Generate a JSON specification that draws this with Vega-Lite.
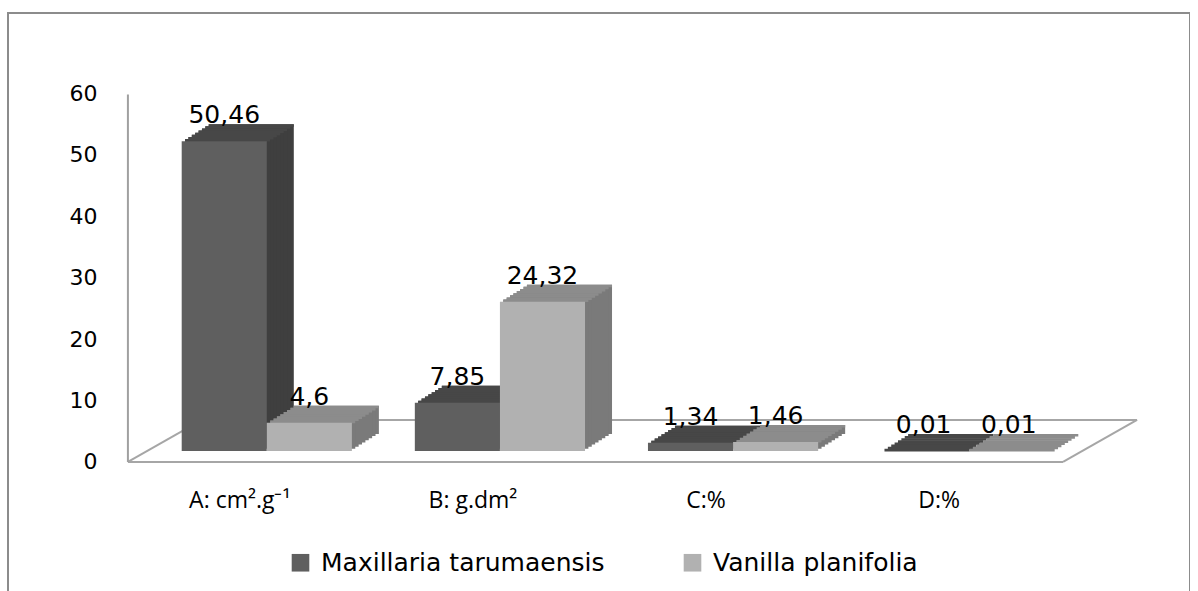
{
  "$schema": "https://vega.github.io/schema/vega-lite/v6.json",
  "width": 1182,
  "height": 580,
  "autosize": {"type": "none"},
  "padding": {"left": 8, "top": 13, "right": 0, "bottom": 0},
  "background": "white",
  "config": {"view": {"stroke": "#8c8c8c", "strokeWidth": 2}, "font": "DejaVu Sans"},
  "resolve": {"scale": {"xOffset": "independent"}},
  "data": {"values": [
    {"cat": "A: cm².g⁻¹", "series": "Maxillaria tarumaensis", "value": 50.46, "label": "50,46"},
    {"cat": "A: cm².g⁻¹", "series": "Vanilla planifolia", "value": 4.6, "label": "4,6"},
    {"cat": "B: g.dm²", "series": "Maxillaria tarumaensis", "value": 7.85, "label": "7,85"},
    {"cat": "B: g.dm²", "series": "Vanilla planifolia", "value": 24.32, "label": "24,32"},
    {"cat": "C:%", "series": "Maxillaria tarumaensis", "value": 1.34, "label": "1,34"},
    {"cat": "C:%", "series": "Vanilla planifolia", "value": 1.46, "label": "1,46"},
    {"cat": "D:%", "series": "Maxillaria tarumaensis", "value": 0.01, "label": "0,01"},
    {"cat": "D:%", "series": "Vanilla planifolia", "value": 0.01, "label": "0,01"}
  ]},
  "layer": [
    {
      "data": {"values": [{}]},
      "mark": {"type": "rule", "color": "#a6a6a6", "strokeWidth": 2, "yOffset": 11, "y2Offset": 11},
      "encoding": {
        "x": {"datum": "A: cm².g⁻¹", "type": "nominal", "bandPosition": -0.316,
              "sort": ["A: cm².g⁻¹", "B: g.dm²", "C:%", "D:%"],
              "scale": {"paddingInner": 0.27, "paddingOuter": 0.67, "align": 0.556},
              "axis": {"orient": "bottom", "offset": -104, "domain": false, "ticks": false, "grid": false,
                       "labelPadding": 0, "labelOffset": -27, "labelFont": "Open Sans", "labelFontSize": 23,
                       "labelColor": "#000000", "labelAngle": 0, "labelBaseline": "top", "title": null}},
        "x2": {"datum": "D:%", "bandPosition": 1.069},
        "y": {"datum": 0, "type": "quantitative",
              "scale": {"domain": [-23.13, 71.33], "nice": false, "zero": false},
              "axis": {"values": [0, 10, 20, 30, 40, 50, 60], "offset": -120, "domain": false, "ticks": false,
                       "grid": false, "labelPadding": 31, "labelOffset": 11, "labelFont": "DejaVu Sans",
                       "labelFontSize": 22, "labelColor": "#000000", "title": null}},
        "y2": {"datum": 0}
      }
    },
    {
      "data": {"values": [{}]},
      "mark": {"type": "rule", "color": "#a6a6a6", "strokeWidth": 2, "yOffset": -31, "y2Offset": -31},
      "encoding": {
        "x": {"datum": "A: cm².g⁻¹", "type": "nominal", "bandPosition": 0.119},
        "x2": {"datum": "D:%", "bandPosition": 1.504},
        "y": {"datum": 0, "type": "quantitative"},
        "y2": {"datum": 0}
      }
    },
    {
      "data": {"values": [{}]},
      "mark": {"type": "rule", "color": "#a6a6a6", "strokeWidth": 2, "yOffset": 11, "y2Offset": -31},
      "encoding": {
        "x": {"datum": "A: cm².g⁻¹", "type": "nominal", "bandPosition": -0.316},
        "x2": {"datum": "A: cm².g⁻¹", "bandPosition": 0.119},
        "y": {"datum": 0, "type": "quantitative"},
        "y2": {"datum": 0}
      }
    },
    {
      "data": {"values": [{}]},
      "mark": {"type": "rule", "color": "#a6a6a6", "strokeWidth": 2, "yOffset": 11, "y2Offset": -31},
      "encoding": {
        "x": {"datum": "D:%", "type": "nominal", "bandPosition": 1.069},
        "x2": {"datum": "D:%", "bandPosition": 1.504},
        "y": {"datum": 0, "type": "quantitative"},
        "y2": {"datum": 0}
      }
    },
    {
      "data": {"values": [{}]},
      "mark": {"type": "rule", "color": "#a0a0a0", "strokeWidth": 2, "yOffset": 11, "y2Offset": 12},
      "encoding": {
        "x": {"datum": "A: cm².g⁻¹", "type": "nominal", "bandPosition": -0.316},
        "y": {"datum": 0, "type": "quantitative"},
        "y2": {"datum": 60}
      }
    },
    {"mark": {"type": "bar", "yOffset": -17, "y2Offset": -17},
     "encoding": {"x": {"field": "cat", "type": "nominal"},
       "xOffset": {"field": "series", "type": "nominal", "scale": {"range": [27, 197.19], "paddingInner": 0, "paddingOuter": 0}},
       "y": {"field": "value", "type": "quantitative"}, "y2": {"datum": 0},
       "color": {"condition": {"test": "datum.series === 'Vanilla planifolia'", "value": "#7a7a7a"}, "value": "#3f3f3f"}}},
    {"mark": {"type": "bar", "yOffset": -14.875, "y2Offset": -14.875},
     "encoding": {"x": {"field": "cat", "type": "nominal"},
       "xOffset": {"field": "series", "type": "nominal", "scale": {"range": [23.625, 193.815], "paddingInner": 0, "paddingOuter": 0}},
       "y": {"field": "value", "type": "quantitative"}, "y2": {"datum": 0},
       "color": {"condition": {"test": "datum.series === 'Vanilla planifolia'", "value": "#7a7a7a"}, "value": "#3f3f3f"}}},
    {"mark": {"type": "bar", "yOffset": -12.75, "y2Offset": -12.75},
     "encoding": {"x": {"field": "cat", "type": "nominal"},
       "xOffset": {"field": "series", "type": "nominal", "scale": {"range": [20.25, 190.44], "paddingInner": 0, "paddingOuter": 0}},
       "y": {"field": "value", "type": "quantitative"}, "y2": {"datum": 0},
       "color": {"condition": {"test": "datum.series === 'Vanilla planifolia'", "value": "#7a7a7a"}, "value": "#3f3f3f"}}},
    {"mark": {"type": "bar", "yOffset": -10.625, "y2Offset": -10.625},
     "encoding": {"x": {"field": "cat", "type": "nominal"},
       "xOffset": {"field": "series", "type": "nominal", "scale": {"range": [16.875, 187.065], "paddingInner": 0, "paddingOuter": 0}},
       "y": {"field": "value", "type": "quantitative"}, "y2": {"datum": 0},
       "color": {"condition": {"test": "datum.series === 'Vanilla planifolia'", "value": "#7a7a7a"}, "value": "#3f3f3f"}}},
    {"mark": {"type": "bar", "yOffset": -8.5, "y2Offset": -8.5},
     "encoding": {"x": {"field": "cat", "type": "nominal"},
       "xOffset": {"field": "series", "type": "nominal", "scale": {"range": [13.5, 183.69], "paddingInner": 0, "paddingOuter": 0}},
       "y": {"field": "value", "type": "quantitative"}, "y2": {"datum": 0},
       "color": {"condition": {"test": "datum.series === 'Vanilla planifolia'", "value": "#7a7a7a"}, "value": "#3f3f3f"}}},
    {"mark": {"type": "bar", "yOffset": -6.375, "y2Offset": -6.375},
     "encoding": {"x": {"field": "cat", "type": "nominal"},
       "xOffset": {"field": "series", "type": "nominal", "scale": {"range": [10.125, 180.315], "paddingInner": 0, "paddingOuter": 0}},
       "y": {"field": "value", "type": "quantitative"}, "y2": {"datum": 0},
       "color": {"condition": {"test": "datum.series === 'Vanilla planifolia'", "value": "#7a7a7a"}, "value": "#3f3f3f"}}},
    {"mark": {"type": "bar", "yOffset": -4.25, "y2Offset": -4.25},
     "encoding": {"x": {"field": "cat", "type": "nominal"},
       "xOffset": {"field": "series", "type": "nominal", "scale": {"range": [6.75, 176.94], "paddingInner": 0, "paddingOuter": 0}},
       "y": {"field": "value", "type": "quantitative"}, "y2": {"datum": 0},
       "color": {"condition": {"test": "datum.series === 'Vanilla planifolia'", "value": "#7a7a7a"}, "value": "#3f3f3f"}}},
    {"mark": {"type": "bar", "yOffset": -2.125, "y2Offset": -2.125},
     "encoding": {"x": {"field": "cat", "type": "nominal"},
       "xOffset": {"field": "series", "type": "nominal", "scale": {"range": [3.375, 173.565], "paddingInner": 0, "paddingOuter": 0}},
       "y": {"field": "value", "type": "quantitative"}, "y2": {"datum": 0},
       "color": {"condition": {"test": "datum.series === 'Vanilla planifolia'", "value": "#7a7a7a"}, "value": "#3f3f3f"}}},
    {"mark": {"type": "bar", "yOffset": -17, "y2Offset": -14.4},
     "encoding": {"x": {"field": "cat", "type": "nominal"},
       "xOffset": {"field": "series", "type": "nominal", "scale": {"range": [27, 197.19], "paddingInner": 0, "paddingOuter": 0}},
       "y": {"field": "value", "type": "quantitative"}, "y2": {"field": "value"},
       "color": {"condition": {"test": "datum.series === 'Vanilla planifolia'", "value": "#8c8c8c"}, "value": "#474747"}}},
    {"mark": {"type": "bar", "yOffset": -14.875, "y2Offset": -12.275},
     "encoding": {"x": {"field": "cat", "type": "nominal"},
       "xOffset": {"field": "series", "type": "nominal", "scale": {"range": [23.625, 193.815], "paddingInner": 0, "paddingOuter": 0}},
       "y": {"field": "value", "type": "quantitative"}, "y2": {"field": "value"},
       "color": {"condition": {"test": "datum.series === 'Vanilla planifolia'", "value": "#8c8c8c"}, "value": "#474747"}}},
    {"mark": {"type": "bar", "yOffset": -12.75, "y2Offset": -10.15},
     "encoding": {"x": {"field": "cat", "type": "nominal"},
       "xOffset": {"field": "series", "type": "nominal", "scale": {"range": [20.25, 190.44], "paddingInner": 0, "paddingOuter": 0}},
       "y": {"field": "value", "type": "quantitative"}, "y2": {"field": "value"},
       "color": {"condition": {"test": "datum.series === 'Vanilla planifolia'", "value": "#8c8c8c"}, "value": "#474747"}}},
    {"mark": {"type": "bar", "yOffset": -10.625, "y2Offset": -8.025},
     "encoding": {"x": {"field": "cat", "type": "nominal"},
       "xOffset": {"field": "series", "type": "nominal", "scale": {"range": [16.875, 187.065], "paddingInner": 0, "paddingOuter": 0}},
       "y": {"field": "value", "type": "quantitative"}, "y2": {"field": "value"},
       "color": {"condition": {"test": "datum.series === 'Vanilla planifolia'", "value": "#8c8c8c"}, "value": "#474747"}}},
    {"mark": {"type": "bar", "yOffset": -8.5, "y2Offset": -5.9},
     "encoding": {"x": {"field": "cat", "type": "nominal"},
       "xOffset": {"field": "series", "type": "nominal", "scale": {"range": [13.5, 183.69], "paddingInner": 0, "paddingOuter": 0}},
       "y": {"field": "value", "type": "quantitative"}, "y2": {"field": "value"},
       "color": {"condition": {"test": "datum.series === 'Vanilla planifolia'", "value": "#8c8c8c"}, "value": "#474747"}}},
    {"mark": {"type": "bar", "yOffset": -6.375, "y2Offset": -3.775},
     "encoding": {"x": {"field": "cat", "type": "nominal"},
       "xOffset": {"field": "series", "type": "nominal", "scale": {"range": [10.125, 180.315], "paddingInner": 0, "paddingOuter": 0}},
       "y": {"field": "value", "type": "quantitative"}, "y2": {"field": "value"},
       "color": {"condition": {"test": "datum.series === 'Vanilla planifolia'", "value": "#8c8c8c"}, "value": "#474747"}}},
    {"mark": {"type": "bar", "yOffset": -4.25, "y2Offset": -1.65},
     "encoding": {"x": {"field": "cat", "type": "nominal"},
       "xOffset": {"field": "series", "type": "nominal", "scale": {"range": [6.75, 176.94], "paddingInner": 0, "paddingOuter": 0}},
       "y": {"field": "value", "type": "quantitative"}, "y2": {"field": "value"},
       "color": {"condition": {"test": "datum.series === 'Vanilla planifolia'", "value": "#8c8c8c"}, "value": "#474747"}}},
    {"mark": {"type": "bar", "yOffset": -2.125, "y2Offset": 0.475},
     "encoding": {"x": {"field": "cat", "type": "nominal"},
       "xOffset": {"field": "series", "type": "nominal", "scale": {"range": [3.375, 173.565], "paddingInner": 0, "paddingOuter": 0}},
       "y": {"field": "value", "type": "quantitative"}, "y2": {"field": "value"},
       "color": {"condition": {"test": "datum.series === 'Vanilla planifolia'", "value": "#8c8c8c"}, "value": "#474747"}}},
    {
      "mark": {"type": "bar"},
      "encoding": {
        "x": {"field": "cat", "type": "nominal"},
        "xOffset": {"field": "series", "type": "nominal", "scale": {"paddingInner": 0, "paddingOuter": 0}},
        "y": {"field": "value", "type": "quantitative"},
        "y2": {"datum": 0},
        "color": {"field": "series", "type": "nominal",
                  "scale": {"domain": ["Maxillaria tarumaensis", "Vanilla planifolia"], "range": ["#5f5f5f", "#b1b1b1"]},
                  "legend": {"orient": "none", "legendX": 280, "legendY": 537, "direction": "horizontal", "title": null,
                             "symbolType": "square", "symbolSize": 310, "symbolStrokeWidth": 0, "labelFont": "DejaVu Sans",
                             "labelFontSize": 25, "labelLimit": 0, "labelColor": "#000000", "columnPadding": 75,
                             "labelOffset": 8, "padding": 0}}
      }
    },
    {
      "mark": {"type": "text", "baseline": "alphabetic", "yOffset": -18, "font": "DejaVu Sans", "fontSize": 25, "color": "#000000"},
      "encoding": {
        "x": {"field": "cat", "type": "nominal"},
        "xOffset": {"field": "series", "type": "nominal", "scale": {"type": "band", "paddingInner": 0, "paddingOuter": 0}},
        "y": {"field": "value", "type": "quantitative"},
        "text": {"field": "label"}
      }
    }
  ]
}
